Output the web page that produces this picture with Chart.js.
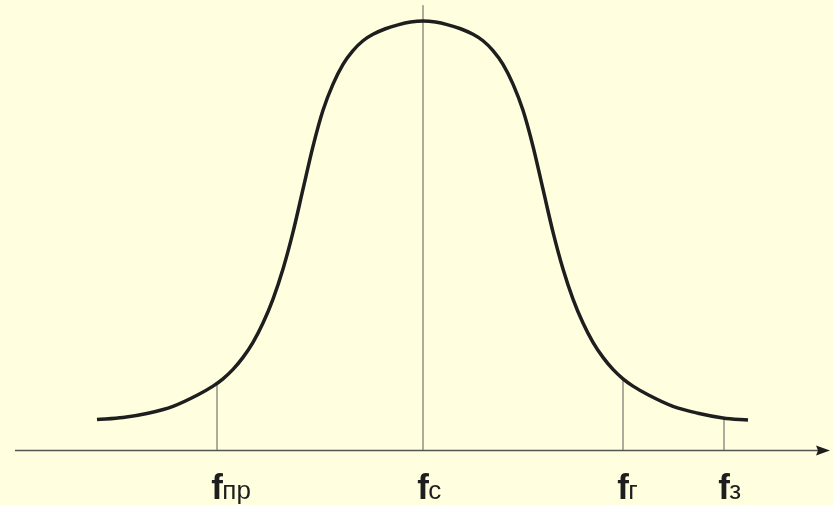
<!DOCTYPE html>
<html>
<head>
<meta charset="utf-8">
<script src="https://cdn.jsdelivr.net/npm/chart.js@4/dist/chart.umd.min.js"></script>
<style>
  html, body { margin: 0; padding: 0; background: #ffffe0; }
  #wrap { width: 833px; height: 505px; position: relative; }
</style>
</head>
<body>
<div id="wrap"><canvas id="chart_curve"></canvas></div>
<script>
// curve: x relative to fc, y in % of peak
var curve_x = [-3.26, -3.0, -2.75, -2.5, -2.25, -2.1, -2.0, -1.9, -1.8, -1.7, -1.6, -1.5, -1.4, -1.3, -1.2, -1.1, -1.0, -0.9, -0.8, -0.7, -0.6, -0.5, -0.375, -0.25, -0.125, 0,
               0.125, 0.25, 0.375, 0.5, 0.6, 0.7, 0.8, 0.9, 1.0, 1.1, 1.2, 1.3, 1.4, 1.5, 1.6, 1.7, 1.8, 1.9, 2.0, 2.1, 2.25, 2.5, 2.75, 3.0, 3.25];
var curve_y = [7.1, 7.6, 8.6, 10.2, 12.9, 14.9, 16.6, 18.8, 21.6, 25.1, 29.6, 35.2, 42.2, 50.8, 60.8, 70.8, 79.2, 85.3, 89.9, 93.1, 95.4, 96.9, 98.2, 99.1, 99.75, 100,
               99.75, 99.1, 98.2, 96.9, 95.4, 93.1, 89.9, 85.3, 79.2, 70.8, 60.8, 50.8, 42.2, 35.2, 29.6, 25.1, 21.6, 18.8, 16.6, 14.9, 12.9, 10.2, 8.6, 7.5, 7.0];

// frequency marks
var mark_sub = ["пр", "с", "г", "з"];
var mark_x = [-2.06, 0, 2.00, 3.01];
var mark_top = [15.6, 103.7, 16.6, 7.5];

// x axis extent (with arrow)
var axis_from = -4.08;
var axis_to = 4.07;

var puntos = curve_x.map(function (x, i) { return { x: x, y: curve_y[i] }; });

var datasets = [
    {
        label: "curve",
        data: puntos,
        borderColor: "#1e1e1e",
        borderWidth: 3.5,
        pointRadius: 0,
        cubicInterpolationMode: "monotone",
        fill: false,
        clip: false,
    },
];

mark_x.forEach(function (x, i) {
    datasets.push({
        label: "f" + mark_sub[i],
        data: [{ x: x, y: 0 }, { x: x, y: mark_top[i] }],
        borderColor: "#5a5a5a",
        borderWidth: 1,
        pointRadius: 0,
        fill: false,
        clip: false,
    });
});

var fondo = {
    id: "fondo",
    beforeDraw: function (chart) {
        var c = chart.ctx;
        c.save();
        c.fillStyle = "#ffffe0";
        c.fillRect(0, 0, chart.width, chart.height);
        c.restore();
    },
};

var ejes = {
    id: "ejes",
    beforeDatasetsDraw: function (chart) {
        var c = chart.ctx;
        var sx = chart.scales.x, sy = chart.scales.y;
        var y0 = Math.round(sy.getPixelForValue(0)) + 0.5;
        var x1 = sx.getPixelForValue(axis_from);
        var x2 = sx.getPixelForValue(axis_to);
        c.save();
        c.strokeStyle = "#555550";
        c.lineWidth = 1.3;
        c.beginPath();
        c.moveTo(x1, y0);
        c.lineTo(x2 - 10, y0);
        c.stroke();
        c.fillStyle = "#1e1e1e";
        c.beginPath();
        c.moveTo(x2, y0);
        c.lineTo(x2 - 14, y0 - 5);
        c.lineTo(x2 - 12, y0);
        c.lineTo(x2 - 14, y0 + 5);
        c.closePath();
        c.fill();
        c.restore();
    },
    afterDatasetsDraw: function (chart) {
        var c = chart.ctx;
        var sx = chart.scales.x;
        c.save();
        c.fillStyle = "#1e1e1e";
        c.textBaseline = "alphabetic";
        mark_x.forEach(function (x, i) {
            var px = sx.getPixelForValue(x);
            c.font = "bold 35px 'Liberation Sans', Arial, sans-serif";
            c.textAlign = "center";
            c.fillText("f", px, 499);
            var w = c.measureText("f").width;
            c.font = "26px 'Liberation Sans', Arial, sans-serif";
            c.textAlign = "left";
            c.fillText(mark_sub[i], px + w / 2 - 0.5, 499);
        });
        c.restore();
    },
};

var ctx_curve = document.getElementById("chart_curve");
var chart_curve = new Chart(ctx_curve, {
    type: "line",
    data: { datasets: datasets },
    options: {
        responsive: true,
        maintainAspectRatio: false,
        animation: false,
        layout: { padding: 0 },
        plugins: {
            legend: { display: false },
            tooltip: { enabled: false },
        },
        scales: {
            x: { type: "linear", min: -4.23, max: 4.10, display: false },
            y: { type: "linear", min: -12.8, max: 104.9, display: false },
        },
    },
    plugins: [fondo, ejes],
});
</script>
</body>
</html>
